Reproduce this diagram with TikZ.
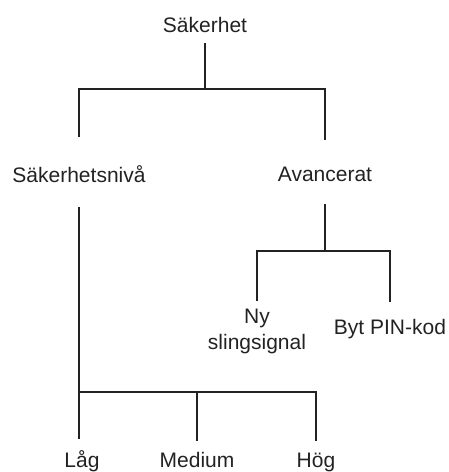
\documentclass[tikz,border=0pt]{standalone}
\usepackage{fontspec}
\setmainfont{Liberation Sans}
\usepackage{xcolor}
\usepackage{tikz}
\usetikzlibrary{positioning,calc}
\definecolor{linegray}{RGB}{34,34,34}

\begin{document}
\begin{tikzpicture}[x=1pt, y=-1pt,
        lbl/.style={font=\fontsize{21}{23}\selectfont, text=linegray,
                    inner sep=0pt, anchor=base, align=center},
        conn/.style={line width=2pt, draw=linegray}
      ]
        \useasboundingbox (0,0) rectangle (449,472);
        \node[lbl] (root)  at (205,32)  {Säkerhet};
        \node[lbl] (niva)  at (79,182)  {Säkerhetsnivå};
        \node[lbl] (avanc) at (325,181) {Avancerat};
        \node[lbl, anchor=north] (ny) at (257,309) {Ny\\[3pt]slingsignal};
        \node[lbl] (pin)   at (390,334) {Byt PIN-kod};
        \node[lbl] (lag)   at (82,467)  {Låg};
        \node[lbl] (med)   at (197,467) {Medium};
        \node[lbl] (hog)   at (316,467) {Hög};
        \coordinate (bar1) at (0,89);
        \coordinate (bar2) at (0,251);
        \coordinate (bar3) at (0,392);
        \coordinate (nivaend) at (niva.south |- lag.north);
        \draw[conn, shorten <=11pt] (root.south) -- (root.south |- bar1);
        \draw[conn, shorten <=28pt, shorten >=26pt]
              (niva.north) -- (niva.north |- bar1) -- (avanc.north |- bar1) -- (avanc.north);
        \draw[conn, shorten <=25pt, shorten >=11pt] (niva.south) -- (nivaend);
        \draw[conn, shorten >=11pt] (niva.south |- bar3) -- (hog.north |- bar3) -- (hog.north);
        \draw[conn, shorten >=11pt] (med.north |- bar3) -- (med.north);
        \draw[conn, shorten <=23pt] (avanc.south) -- (avanc.south |- bar2);
        \draw[conn, shorten <=8pt, shorten >=17pt]
              (ny.north) -- (ny.north |- bar2) -- (pin.north |- bar2) -- (pin.north);
      \end{tikzpicture}
\end{document}
